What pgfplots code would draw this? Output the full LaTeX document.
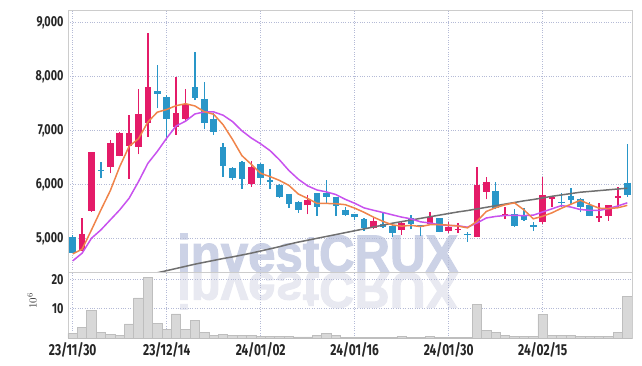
\documentclass[border=0pt]{standalone}
\usepackage{pgfplots}
\pgfplotsset{compat=1.18}
\usepackage{pgfplotstable}
\usepackage{fontspec}
\setmainfont{Fira Sans}
\newfontfamily\tickf[FakeStretch=0.75,Numbers=Proportional]{Fira Sans}
\newfontfamily\wmf[FakeStretch=0.93,FakeBold=2]{Liberation Sans Bold}
\definecolor{candup}{RGB}{228,27,104}
\definecolor{canddn}{RGB}{41,150,200}
\definecolor{maorange}{RGB}{240,132,74}
\definecolor{mapurple}{RGB}{200,82,238}
\definecolor{magray}{RGB}{112,112,112}
\definecolor{gridc}{RGB}{180,186,214}
\definecolor{framec}{RGB}{204,204,204}
\definecolor{volf}{RGB}{216,216,216}
\definecolor{vold}{RGB}{190,190,190}
\definecolor{wmc}{RGB}{204,210,230}
\definecolor{wmc2}{RGB}{232,233,241}

\pgfplotstableread{
i o h l c
1 4785 5372 4773 5076
2 5508 6610 5495 6596
4 6330 6825 6207 6763
5 6534 6980 6520 6961
6 6720 7288 6102 6961
7 6701 7764 6559 7307
8 7134 8802 6886 7801
11 7059 7999 6917 7319
12 7208 7764 7158 7486
19 6015 6435 5960 6325
25 5613 5805 5446 5712
32 5187 5391 5180 5329
35 5156 5310 5063 5280
38 5267 5484 5260 5391
40 5143 5310 5094 5218
41 5150 5280 5106 5181
43 5032 6330 5025 5990
44 5867 6132 5724 6046
46 5409 5588 5354 5446
50 5310 6132 5261 5805
51 5737 5775 5576 5768
56 5372 5650 5310 5422
57 5422 5625 5329 5619
58 5755 5959 5588 5792
}\upT

\pgfplotstableread{
i o h l c
0 5020 5063 4724 4736
3 6275 6411 6114 6250
9 7733 8209 7412 7671
10 7616 7659 6825 7208
13 7801 8450 7566 7597
14 7585 7894 7022 7134
15 7214 7319 6917 6967
16 6695 6763 6145 6349
17 6305 6320 6083 6126
18 6417 6430 5916 6095
20 6379 6390 5990 6126
21 6077 6281 5910 6052
22 5990 6000 5755 5774
23 5823 5830 5558 5632
24 5681 5690 5477 5527
26 5836 5845 5415 5588
27 5848 6083 5650 5774
28 5761 5770 5415 5607
29 5527 5588 5415 5440
30 5453 5460 5341 5391
31 5360 5370 5144 5199
33 5267 5477 5187 5218
34 5230 5280 5032 5106
36 5372 5434 5168 5267
37 5243 5250 5045 5218
39 5372 5380 5110 5125
42 5078 5125 4940 5053
45 5879 6040 5539 5570
47 5446 5539 5218 5236
48 5422 5557 5330 5341
49 5238 5310 5137 5213
52 5681 5848 5576 5656
53 5786 5941 5638 5712
54 5737 5745 5483 5588
55 5619 5681 5405 5415
59 6034 6750 5774 5805
}\dnT

\pgfplotstableread{
i v
0 4711
1 4798
2 5156
3 5527
4 5884
5 6329
6 6706
7 6848
8 7159
9 7340
10 7390
11 7461
12 7497
13 7456
14 7349
15 7301
16 7107
17 6835
18 6534
19 6372
20 6204
21 6145
22 6074
23 5982
24 5822
25 5739
26 5647
27 5647
28 5642
29 5624
30 5560
31 5482
32 5393
33 5315
34 5249
35 5226
36 5240
37 5218
38 5252
39 5256
40 5244
41 5227
42 5194
43 5314
44 5498
45 5569
46 5622
47 5658
48 5528
49 5362
50 5409
51 5474
52 5558
53 5632
54 5706
55 5628
56 5559
57 5551
58 5567
59 5611
}\maFive

\pgfplotstableread{
i v
0 4581
1 4724
2 5002
3 5156
4 5342
5 5527
6 5743
7 6052
8 6392
9 6612
10 6859
11 7084
12 7173
13 7307
14 7345
15 7345
16 7284
17 7166
18 6995
19 6861
20 6752
21 6626
22 6455
23 6258
24 6097
25 5972
26 5896
27 5861
28 5812
29 5723
30 5650
31 5564
32 5520
33 5479
34 5436
35 5393
36 5361
37 5306
38 5284
39 5252
40 5235
41 5233
42 5206
43 5283
44 5377
45 5406
46 5424
47 5426
48 5421
49 5430
50 5489
51 5548
52 5608
53 5580
54 5534
55 5519
56 5516
57 5554
58 5600
59 5658
}\maTen

\pgfplotstableread{
i v
8 4330
9 4360
10 4400
11 4440
12 4480
13 4520
14 4555
15 4590
16 4625
17 4655
18 4690
19 4725
20 4765
21 4805
22 4845
23 4890
24 4930
25 4965
26 5000
27 5035
28 5070
29 5105
30 5140
31 5175
32 5210
33 5245
34 5280
35 5310
36 5340
37 5370
38 5400
39 5430
40 5460
41 5490
42 5515
43 5545
44 5575
45 5605
46 5635
47 5665
48 5695
49 5720
50 5750
51 5780
52 5805
53 5830
54 5855
55 5870
56 5885
57 5900
58 5915
59 5930
}\maSixty

\pgfplotstableread{
i v
0 1.6
1 3.7
2 9.3
3 2.0
4 1.3
5 0.9
6 4.8
7 13.7
8 20.6
9 5.1
10 3.0
11 8.2
12 3.0
13 6.1
14 2.0
15 0.9
16 1.3
17 0.9
18 0.9
19 0.9
20 0.6
21 0.6
22 0.5
23 0.5
24 0.4
25 0.4
26 1.0
27 1.6
28 0.8
29 0.3
30 0.3
31 0.3
32 0.3
33 0.3
34 0.3
35 0.5
36 0.3
37 0.3
38 0.5
39 0.3
40 0.3
41 0.3
42 0.3
43 11.5
44 2.6
45 2.0
46 1.0
47 0.5
48 0.5
49 0.5
50 8.1
51 1.0
52 1.0
53 1.0
54 0.5
55 0.5
56 0.5
57 0.5
58 2.0
59 14.3
}\volT

\begin{document}
\begin{tikzpicture}
\useasboundingbox (-68bp,-94bp) rectangle (574bp,272bp);
% watermark and its reflection
\node[anchor=base west, inner sep=0pt, text=wmc, font=\wmf\fontsize{53}{53}\selectfont] at (109bp,0bp) {investCRUX};
\node[anchor=base west, inner sep=0pt, yscale=-0.95, text=wmc2, font=\wmf\fontsize{53}{53}\selectfont] at (109bp,-1bp) {investCRUX};

\begin{axis}[
  at={(0bp,0bp)}, anchor=south west,
  width=564bp, height=262bp, scale only axis,
  xmin=-0.5, xmax=59.5, ymin=4375, ymax=9236,
  xtick={0,10,20,30,40,50}, xticklabels={},
  ytick={5000,6000,7000,8000,9000},
  grid=major, major grid style={dotted, color=gridc, line width=0.6bp},
  tick style={draw=none},
  axis line style={draw=framec, line width=0.8bp},
  /pgf/number format/1000 sep={,},
  /pgf/number format/assume math mode=true,
  yticklabel style={font=\tickf\bfseries\fontsize{14.5}{14.5}\selectfont, text=black!85, xshift=-1bp},
]
\addplot[draw=candup, line width=1.3bp, quiver={u=0, v={\thisrow{h}-\thisrow{l}}}] table[x=i, y=l] {\upT};
\addplot[draw=candup, line width=6.5bp, quiver={u=0, v={\thisrow{c}-\thisrow{o}}}] table[x=i, y=o] {\upT};
\addplot[draw=canddn, line width=1.3bp, quiver={u=0, v={\thisrow{h}-\thisrow{l}}}] table[x=i, y=l] {\dnT};
\addplot[draw=canddn, line width=6.5bp, quiver={u=0, v={\thisrow{c}-\thisrow{o}}}] table[x=i, y=o] {\dnT};
\addplot[magray, line width=1.5bp, mark=none] table[x=i, y=v] {\maSixty};
\addplot[mapurple, line width=1.5bp, mark=none] table[x=i, y=v] {\maTen};
\addplot[maorange, line width=1.5bp, mark=none] table[x=i, y=v] {\maFive};
\end{axis}

\begin{axis}[
  at={(0bp,-66bp)}, anchor=south west,
  width=564bp, height=66bp, scale only axis,
  xmin=-0.5, xmax=59.5, ymin=0, ymax=22.5,
  xtick={0,10,20,30,40,50},
  xticklabels={23/11/30,23/12/14,24/01/02,24/01/16,24/01/30,24/02/15},
  ytick={10,20},
  grid=major, major grid style={dotted, color=gridc, line width=0.6bp},
  tick style={draw=none},
  axis line style={draw=framec, line width=0.8bp},
  /pgf/number format/assume math mode=true,
  yticklabel style={font=\tickf\bfseries\fontsize{14.5}{14.5}\selectfont, text=black!85, xshift=-1bp},
  xticklabel style={font=\tickf\bfseries\fontsize{16}{16}\selectfont, text=black!85, yshift=-1bp},
]
\addplot[ybar, bar width=1, fill=volf, draw=vold, line width=0.6bp] table[x=i, y=v] {\volT};
\end{axis}
\node[rotate=90, font=\fontsize{11}{11}\selectfont, text=black!80] at (-36bp,-29bp) {$10^{6}$};
\end{tikzpicture}
\end{document}
